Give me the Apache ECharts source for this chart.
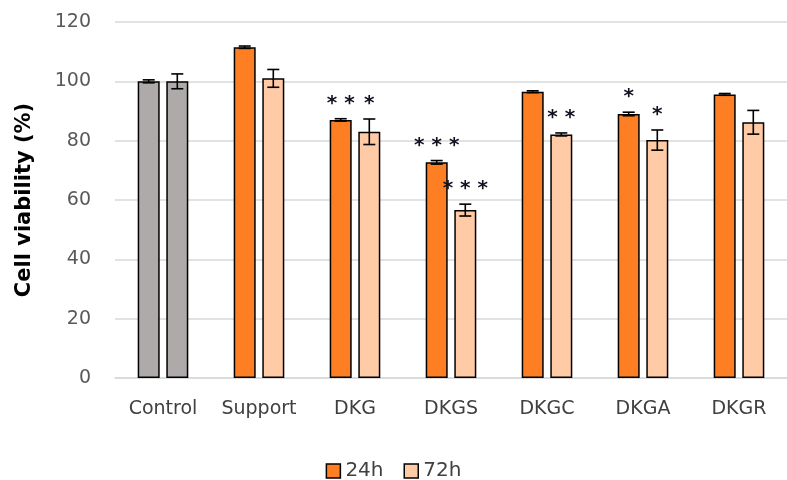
<!DOCTYPE html>
<html>
<head>
<meta charset="utf-8">
<script src="https://cdn.jsdelivr.net/npm/echarts@6/dist/echarts.min.js"></script>
<style>
  html, body { margin: 0; padding: 0; background: #fff; }
  #chart { width: 787px; height: 480px; }
</style>
</head>
<body>
<div id="chart"></div>
<script>
const categories = ['Control', 'Support', 'DKG', 'DKGS', 'DKGC', 'DKGA', 'DKGR']
const values24h = [100, 111.5, 87, 72.7, 96.5, 89, 95.6]
const errors24h = [0.5, 0.4, 0.4, 0.6, 0.3, 0.6, 0.3]
const stars24h = ['', '', '**', '***', '', '*', '']
const values72h = [100, 101, 83, 56.6, 82.1, 80.2, 86.2]
const errors72h = [2.5, 3, 4.3, 2, 0.5, 3.4, 4]
const stars72h = ['', '', '*', '***', '**', '*', '']
const yTicks = [0, 20, 40, 60, 80, 100, 120]

const colorControl = '#aeaaaa'
const color24 = '#fd7e23'
const color72 = '#ffcaa6'
const fontFamily = '"DejaVu Sans", sans-serif'

const chart = echarts.init(document.getElementById('chart'))

const barData = (vals, color) => vals.map((v, i) => ({
  value: v,
  itemStyle: { color: i === 0 ? colorControl : color }
}))

const errData = (vals, errs) => vals.map((v, i) => [i, v, errs[i]])

const makeErrorSeries = (name, vals, errs, stars, offset) => ({
  name: name + ' err',
  type: 'custom',
  z: 5,
  silent: true,
  data: errData(vals, errs),
  encode: { x: 0, y: 1 },
  renderItem: (params, api) => {
    const idx = api.value(0)
    const val = api.value(1)
    const err = api.value(2)
    const star = stars[params.dataIndex]
    const hi = api.coord([idx, val + err])
    const lo = api.coord([idx, val - err])
    const x = hi[0] + offset
    const cap = 6
    const style = { stroke: '#000', lineWidth: 1.6 }
    const children = [
      { type: 'line', shape: { x1: x, y1: hi[1], x2: x, y2: lo[1] }, style },
      { type: 'line', shape: { x1: x - cap, y1: hi[1], x2: x + cap, y2: hi[1] }, style },
      { type: 'line', shape: { x1: x - cap, y1: lo[1], x2: x + cap, y2: lo[1] }, style }
    ]
    if (star) {
      children.push({
        type: 'text',
        style: {
          text: star.split('').join(' '),
          x: x,
          y: hi[1] - 15,
          align: 'center',
          verticalAlign: 'middle',
          fill: '#111122',
          font: 'bold 20px "DejaVu Sans"'
        }
      })
    }
    return { type: 'group', children }
  }
})

const option = {
  animation: false,
  grid: { left: 115, top: 22, width: 684, height: 356 },
  legend: {
    data: ['24h', '72h'],
    left: 'center',
    top: 456,
    icon: 'rect',
    itemWidth: 14,
    itemHeight: 14,
    itemGap: 20,
    itemStyle: { borderColor: '#000', borderWidth: 1.5 },
    textStyle: { color: '#404040', fontSize: 20, fontFamily }
  },
  xAxis: {
    type: 'category',
    data: categories,
    axisLine: { lineStyle: { color: '#d9d9d9', width: 1.5 } },
    axisTick: { show: false },
    axisLabel: { color: '#404040', fontSize: 19, fontFamily, margin: 22, interval: 0 }
  },
  yAxis: {
    type: 'value',
    min: yTicks[0],
    max: yTicks[yTicks.length - 1],
    interval: yTicks[1] - yTicks[0],
    name: 'Cell viability (%)',
    nameLocation: 'middle',
    nameGap: 80,
    nameTextStyle: { color: '#000', fontSize: 21, fontWeight: 'bold', fontFamily },
    axisLine: { show: false },
    axisTick: { show: false },
    axisLabel: { color: '#595959', fontSize: 19, fontFamily, margin: 24 },
    splitLine: { lineStyle: { color: '#d9d9d9', width: 1.5 } }
  },
  series: [
    {
      name: '24h',
      type: 'bar',
      barWidth: 22,
      barGap: '30%',
      itemStyle: { color: color24, borderColor: '#000', borderWidth: 1.5 },
      data: barData(values24h, color24)
    },
    {
      name: '72h',
      type: 'bar',
      barWidth: 22,
      barGap: '30%',
      itemStyle: { color: color72, borderColor: '#000', borderWidth: 1.5 },
      data: barData(values72h, color72)
    },
    makeErrorSeries('24h', values24h, errors24h, stars24h, -14.3),
    makeErrorSeries('72h', values72h, errors72h, stars72h, 14.3)
  ]
}

chart.setOption(option)
</script>
</body>
</html>
